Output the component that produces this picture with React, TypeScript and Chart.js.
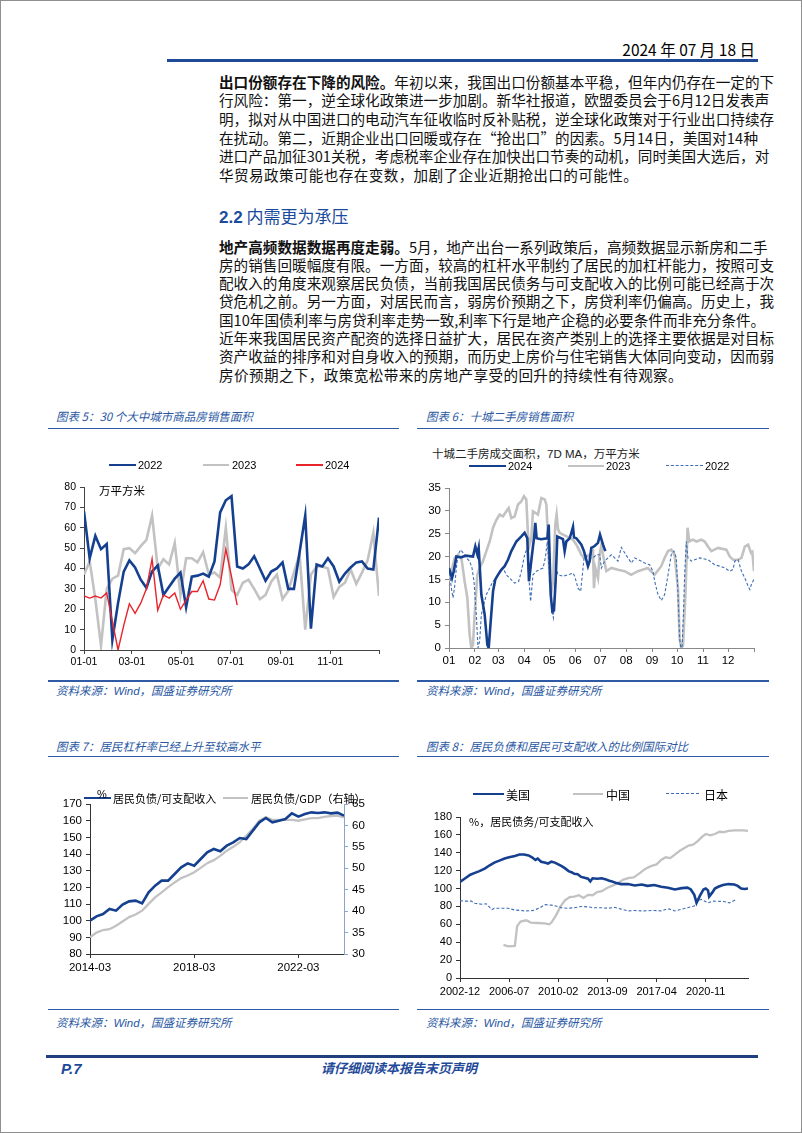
import React, { useEffect, useRef } from "react";
import { Chart, registerables } from "chart.js";
Chart.register(...registerables);

// ---------------- Data ----------------
// Chart 5: 30 cities, weekly (万平方米)
const weekTickDays = [0, 59, 120, 181, 243, 304, 364];
const weekTickLabels = ["01-01", "03-01", "05-01", "07-01", "09-01", "11-01", ""];
const sales2022 = [68, 45, 56, 49.5, 52, 5, 23, 38.5, 44, 40.5, 34.5, 30.5, 38.5, 41.5, 27, 31, 35, 38, 21, 36, 36.5, 37.5, 36, 43.5, 67.5, 73.5, 75.5, 41, 40, 42, 46, 40, 34, 38.5, 40, 43, 30, 30, 48, 66, 10.5, 42, 41, 45, 41, 33.5, 37.5, 40.5, 43, 43.5, 40, 39.5, 65];
const sales2023 = [37, 43.5, 25, 2, 30, 35, 36.5, 49.5, 50, 47.5, 51, 54, 66, 40, 44.5, 42, 52.5, 27, 45, 45, 43, 48, 37, 38, 35.5, 60, 29.5, 27, 33, 34.5, 30, 25, 27, 33.5, 37, 25, 29, 38, 47, 10, 37, 41, 41, 40, 26, 31, 33, 39.5, 32.5, 38, 44, 57.5, 26.5];
const sales2024 = [26.5, 25.5, 26.5, 25.5, 28, 14, 0, 12, 22.7, 18, 23, 30, 44.7, 19.5, 27, 25.5, 28, 20, 24.5, 28.7, 28.7, 34, 25, 24.5, 32, 49.5, 36, 22];

// Chart 6: ten cities second-hand, 7D MA, [day of year, value]
const monthTickDays = [0, 31, 59, 90, 120, 151, 181, 212, 243, 273, 304, 334, 365];
const monthTickLabels = ["01", "02", "03", "04", "05", "06", "07", "08", "09", "10", "11", "12", ""];
type Pt = [number, number];
const ten2024: Pt[] = [[0, 17.5], [3.6, 15.3], [6, 17], [8.8, 20], [14, 19.8], [20, 20.2], [28.7, 20], [31.5, 22.2], [33.9, 20.5], [35.5, 21.9], [38.7, 11.7], [42.7, 7.3], [45.9, 0.7], [47.5, 0], [49.9, 5.8], [52.7, 12.4], [55.4, 15], [58.6, 16], [62.6, 17.1], [66.6, 17.9], [70.6, 19.3], [74.6, 21.2], [80.6, 23.3], [86.6, 24.4], [90.5, 25.2], [93.7, 24], [95.7, 14.6], [99.3, 20.4], [101.7, 24], [103.3, 27.4], [104.9, 24], [110, 23.8], [117.7, 24], [119.3, 27], [121.7, 11.7], [123.7, 8], [125.6, 8.2], [127.6, 14.6], [129.6, 24.4], [136.4, 23.8], [138.4, 21.2], [140.4, 23.3], [144.4, 24], [146.4, 25.2], [148.4, 26.5], [149.6, 24.2], [152.4, 24], [158.4, 22.6], [161.5, 21.2], [164.3, 19.3], [166.3, 17.9], [168.3, 19], [170.3, 21.9], [174.3, 22.3], [178.3, 23], [180.7, 24.8], [184.3, 22.6], [187.1, 21.2]];
const ten2023: Pt[] = [[0, 14.6], [6.8, 19.7], [10.8, 20.4], [14.8, 19.7], [18.7, 14.6], [21.9, 11], [24.7, 2.9], [26.7, 0], [28.7, 0.7], [30.7, 7.3], [33.9, 16], [36.7, 17.5], [40.7, 19], [44.7, 21.2], [48.7, 23.3], [52.7, 26.3], [56.6, 28], [60.6, 29.2], [64.6, 28.8], [68.6, 29.9], [71.4, 30.6], [74.6, 28.4], [78.6, 28.8], [82.6, 31.4], [86.6, 32.1], [89.7, 33.2], [92.5, 32.5], [94.5, 24.8], [96.5, 22.6], [98.5, 24], [100.5, 29.9], [106.5, 29.2], [110.5, 32.8], [114.5, 32.5], [116.5, 31.4], [118.5, 24], [120.5, 14.6], [122.5, 12], [124.5, 14.6], [127.2, 27], [128.8, 29.2], [130.4, 26], [132.4, 25.2], [136.4, 24.8], [144.4, 24.1], [148.4, 23.7], [152.4, 22.6], [156.4, 21.2], [158.4, 20.4], [161.5, 19.7], [168.3, 20.4], [172.3, 21.2], [173.5, 13.1], [175.1, 17.5], [178.3, 15.3], [180.3, 20.4], [182.3, 22.5], [184.3, 20.4], [188.3, 16.8], [194.3, 17.5], [202.2, 17.1], [210.2, 16.8], [218, 16], [226, 16.8], [238, 17.5], [246, 16], [254, 17.9], [258, 19.7], [262, 21.2], [266, 21.5], [270, 20.4], [274, 13.1], [276, 2], [278, 0], [280, 0.5], [283, 12], [285.5, 26.3], [287.5, 23.3], [292, 23.7], [296, 23.3], [302, 23.7], [306, 23.3], [309.9, 22.2], [313.9, 21.2], [321.9, 21.9], [331.9, 21.5], [336, 20], [340, 19.3], [346, 19.3], [350, 19.7], [354, 22.2], [358, 22.6], [361.5, 20.8], [363, 21], [365, 16.8]];
const ten2022: Pt[] = [[0, 17.5], [2.8, 13.1], [4.8, 11], [6.8, 13.5], [8.8, 17.5], [10.8, 20.4], [14, 21.5], [16.8, 20.8], [20.7, 19.7], [24.7, 19], [27.5, 17.5], [29.9, 14.6], [32.7, 7.3], [34.7, 0], [36.7, 1.5], [38.7, 7.3], [40.7, 8.8], [44.7, 11.7], [48.7, 13.1], [52.7, 14.6], [56.6, 15.3], [60.6, 16.8], [64.6, 17.5], [68.6, 16], [72.6, 15.3], [78.6, 14.2], [83.4, 14.6], [86.6, 16.8], [90.5, 20.4], [93.7, 21.9], [95.3, 16], [97.7, 10.2], [100.5, 16], [104.5, 16.8], [112.5, 17.5], [115.3, 19.7], [117.7, 23.3], [120.5, 15.3], [123.3, 8], [124.9, 6.6], [126.4, 11.7], [128.4, 17.5], [130.4, 16], [136.4, 15.7], [142.4, 16], [148.4, 16.4], [150.4, 15.7], [154.4, 13.1], [157.6, 12.4], [160.4, 17.5], [162.3, 20.8], [165.5, 19.7], [172.3, 19.7], [176.3, 20.4], [180.3, 20.4], [182.3, 17.5], [186.3, 19], [194.3, 20.4], [198.2, 19.7], [202.2, 19], [206.2, 22], [214.2, 19.7], [218.2, 18.6], [222.2, 19.7], [230.2, 19], [234.1, 18.6], [240.1, 18.2], [244.1, 16.8], [246.1, 14.6], [250.1, 11.7], [254.1, 10.4], [258.1, 11.7], [262.1, 16], [266, 20.4], [269.2, 21.2], [272, 19.7], [274, 12], [276, 2], [277.5, 0], [279, 0.4], [280.5, 7.3], [282, 16], [284, 23.3], [286, 19.7], [290, 19], [300, 19.7], [310, 19.3], [318, 18.2], [324, 17.9], [330, 17.5], [336, 16.8], [340, 17.2], [342, 19], [346, 19.3], [350, 16.8], [354, 15.3], [358, 13.5], [360, 12.8], [362, 14], [365, 15]];

// Chart 7: quarterly household leverage
const levTickIdx = [0, 16, 32];
const levTickLabels = ["2014-03", "2018-03", "2022-03"];
const debtToIncome = [100, 102.6, 104, 107, 106, 109.6, 111.6, 112, 110.4, 117, 121, 124, 124, 128, 132, 134.4, 133, 137, 141, 143, 141.6, 145, 147, 149.6, 149, 154, 159, 161.6, 159, 160, 161, 164.4, 162.4, 164, 165, 164.6, 165, 164.4, 164.8, 163];
const debtToGdp = [33.9, 35, 35.6, 35.8, 36.6, 37.6, 38.6, 39.2, 40.1, 41.7, 43.2, 44.4, 45.6, 46.7, 47.7, 48.3, 49.1, 50.1, 51.2, 51.9, 52.9, 54.1, 55, 56.1, 57.6, 59.2, 61.1, 61.9, 61.3, 61.3, 61.3, 61.3, 61.1, 61.4, 61.7, 61.7, 62, 62.2, 62.3, 61.9];

// Chart 8: international comparison [months since 2002-12, value]
const intlTickMonths = [0, 43, 86, 129, 172, 215];
const intlTickLabels = ["2002-12", "2006-07", "2010-02", "2013-09", "2017-04", "2020-11"];
const usRatio: Pt[] = [[0, 107.5], [4, 111], [9, 115.5], [13, 117.5], [17, 119.5], [22, 122.5], [26, 126], [30, 129], [35, 131.5], [39, 133.5], [43, 135], [48, 136.5], [52, 138], [56, 138], [60, 137], [63, 135], [66, 132], [68, 133.5], [71, 130], [74, 129], [77, 128], [80, 130], [83, 129], [86, 127], [89, 125], [92, 122.5], [95, 119.5], [98, 118], [100, 116.5], [103, 116], [106, 113], [109, 112], [112, 111], [114, 108], [116, 111.5], [120, 111], [124, 111.5], [127, 110.5], [130, 109], [133, 108], [136, 106.5], [141, 105], [147, 105], [153, 103.5], [159, 104.5], [164, 103], [170, 104], [176, 102], [182, 101], [188, 99], [194, 100.5], [199, 101], [202, 99], [205, 93], [207, 84], [210, 92], [213, 99], [215, 100], [217, 98], [218, 91], [221, 96], [223, 100], [226, 102], [230, 104], [235, 105], [240, 104.5], [243, 103], [246, 100], [249, 99.5], [252, 100]];
const cnRatio: Pt[] = [[38, 37], [42, 35.5], [48, 36], [50, 58], [53, 63], [58, 64.5], [62, 62], [68, 61.5], [74, 61], [78, 60], [80, 62], [84, 70], [88, 80], [92, 87], [96, 90.5], [100, 91], [104, 92.5], [108, 89.5], [112, 93], [116, 92.5], [120, 96], [124, 97], [129, 101], [133, 103], [138, 106], [143, 110], [148, 112], [152, 112.5], [157, 117], [162, 122], [167, 125], [172, 127], [176, 132], [180, 135], [184, 134], [188, 138], [192, 142], [196, 145], [200, 148], [204, 149], [208, 153], [212, 158], [215, 161], [219, 159.5], [223, 161], [227, 163.5], [231, 163], [235, 164.5], [240, 165], [244, 165], [248, 165], [252, 164.5]];
const jpRatio: Pt[] = [[0, 86.5], [4, 86], [10, 86], [13, 83.5], [19, 82.5], [23, 83], [26, 79], [28, 76.5], [30, 78], [35, 78], [42, 78], [48, 76], [57, 75], [64, 75.5], [70, 78.5], [74, 82], [80, 81.5], [84, 80.5], [89, 78.5], [94, 78], [100, 78.5], [106, 80], [112, 79.5], [118, 78.5], [124, 78.5], [130, 78], [135, 79], [141, 77], [147, 75], [153, 75.5], [159, 75], [170, 75.5], [176, 75], [182, 77.5], [188, 75], [194, 77], [199, 78.5], [205, 80.5], [208, 86], [211, 88], [214, 86], [217, 84], [221, 86], [231, 85.5], [236, 84], [239, 86], [242, 88]];

// ---------------- Styles ----------------
const NAVY = "#15408f";
const GRAY = "#c2c2c2";
const RED = "#e8242b";
const DASHC = "#3d6db6";
const TBLUE = "#2a58a3";
const LATIN = "'Liberation Sans', Arial, sans-serif";
const CJK = "'Noto Sans CJK SC', 'Liberation Sans', sans-serif";

Chart.defaults.font.family = LATIN;

const toXY = (arr: Pt[]) => arr.map(([x, y]) => ({ x, y }));
const fromSeries = (vals: number[], step: number) => vals.map((y, i) => ({ x: i * step, y }));

function fixedTicks(values: number[], labels: string[]) {
  return {
    afterBuildTicks: (s: any) => {
      s.ticks = values.map((v) => ({ value: v }));
    },
    cb: (v: any) => {
      const k = values.indexOf(Number(v));
      return k >= 0 ? labels[k] : "";
    },
  };
}

function lineDs(data: any[], color: string, width: number, extra: any = {}) {
  return { data, borderColor: color, borderWidth: width, pointRadius: 0, tension: 0, fill: false, ...extra };
}

function axisX(opts: { min: number; max: number; values: number[]; labels: string[]; size: number; h: number; color: string; pad: number }) {
  const t = fixedTicks(opts.values, opts.labels);
  return {
    type: "linear",
    min: opts.min,
    max: opts.max,
    afterBuildTicks: t.afterBuildTicks,
    afterFit: (s: any) => {
      s.height = opts.h;
    },
    ticks: { callback: t.cb, autoSkip: false, maxRotation: 0, minRotation: 0, color: "#000", font: { size: opts.size, family: LATIN }, padding: opts.pad },
    grid: { display: true, drawOnChartArea: false, drawTicks: true, tickLength: 4, color: opts.color },
    border: { display: true, color: opts.color, width: 1 },
  };
}

function axisY(opts: { min: number; max: number; step: number; size: number; w: number; color: string; pos?: string; pad: number }) {
  return {
    type: "linear",
    position: opts.pos || "left",
    min: opts.min,
    max: opts.max,
    afterFit: (s: any) => {
      s.width = opts.w;
    },
    ticks: { stepSize: opts.step, autoSkip: false, color: "#000", font: { size: opts.size, family: LATIN }, padding: opts.pad },
    grid: { display: true, drawOnChartArea: false, drawTicks: true, tickLength: 4, color: opts.color },
    border: { display: true, color: opts.color, width: 1 },
  };
}

function baseOptions(scales: any, padTop: number, padRight: number) {
  return {
    animation: false,
    responsive: false,
    maintainAspectRatio: false,
    events: [],
    layout: { padding: { top: padTop, right: padRight, left: 0, bottom: 0 } },
    plugins: { legend: { display: false }, tooltip: { enabled: false }, title: { display: false } },
    scales,
  };
}

function ChartBox(props: { left: number; top: number; width: number; height: number; make: () => any }) {
  const ref = useRef<HTMLCanvasElement | null>(null);
  useEffect(() => {
    if (!ref.current) return;
    const chart = new Chart(ref.current, props.make());
    return () => chart.destroy();
  }, []);
  return (
    <canvas
      ref={ref}
      width={props.width}
      height={props.height}
      style={{ position: "absolute", left: props.left, top: props.top, width: props.width, height: props.height, display: "block" }}
    />
  );
}

function makeChart5() {
  return {
    type: "line",
    data: {
      datasets: [
        lineDs(fromSeries(sales2024, 7), RED, 1.4),
        lineDs(fromSeries(sales2022, 7), NAVY, 2.6),
        lineDs(fromSeries(sales2023, 7), GRAY, 2.6),
      ],
    },
    options: baseOptions(
      {
        x: axisX({ min: 0, max: 364, values: weekTickDays, labels: weekTickLabels, size: 10.5, h: 22, color: "#444", pad: 2 }),
        y: axisY({ min: 0, max: 80, step: 10, size: 10.5, w: 43, color: "#444", pad: 4 }),
      },
      12,
      10
    ),
  };
}

function makeChart6() {
  return {
    type: "line",
    data: {
      datasets: [
        lineDs(toXY(ten2024), NAVY, 2.6),
        lineDs(toXY(ten2022), DASHC, 1.1, { borderDash: [3, 2] }),
        lineDs(toXY(ten2023), GRAY, 2.6),
      ],
    },
    options: baseOptions(
      {
        x: axisX({ min: 0, max: 365, values: monthTickDays, labels: monthTickLabels, size: 11.5, h: 22, color: "#888", pad: 2 }),
        y: axisY({ min: 0, max: 35, step: 5, size: 11.5, w: 38, color: "#888", pad: 4 }),
      },
      12,
      10
    ),
  };
}

function makeChart7() {
  return {
    type: "line",
    data: {
      datasets: [
        lineDs(fromSeries(debtToIncome, 1), NAVY, 2.6, { yAxisID: "y" }),
        lineDs(fromSeries(debtToGdp, 1), GRAY, 2.3, { yAxisID: "y1" }),
      ],
    },
    options: baseOptions(
      {
        x: axisX({ min: 0, max: 39, values: levTickIdx, labels: levTickLabels, size: 11.5, h: 22, color: "#333", pad: 3 }),
        y: axisY({ min: 80, max: 170, step: 10, size: 11.5, w: 44, color: "#333", pad: 4 }),
        y1: axisY({ min: 30, max: 65, step: 5, size: 11.5, w: 30, color: "#8aa3cf", pos: "right", pad: 4 }),
      },
      12,
      2
    ),
  };
}

function makeChart8() {
  return {
    type: "line",
    data: {
      datasets: [
        lineDs(toXY(usRatio), NAVY, 2.6),
        lineDs(toXY(jpRatio), DASHC, 1.1, { borderDash: [3, 2] }),
        lineDs(toXY(cnRatio), GRAY, 2.3),
      ],
    },
    options: baseOptions(
      {
        x: axisX({ min: 0, max: 252, values: intlTickMonths, labels: intlTickLabels, size: 11, h: 22, color: "#333", pad: 3 }),
        y: axisY({ min: 0, max: 180, step: 20, size: 11, w: 44, color: "#333", pad: 4 }),
      },
      12,
      10
    ),
  };
}

// ---------------- Text helpers ----------------
function T(props: { x: number; y: number; size: number; children: any; style?: any; family?: string }) {
  const lh = Math.round(props.size * 1.4);
  return (
    <div
      style={{
        position: "absolute",
        left: props.x,
        top: props.y - lh / 2,
        lineHeight: lh + "px",
        fontSize: props.size,
        fontFamily: props.family || CJK,
        whiteSpace: "nowrap",
        color: "#000",
        ...(props.style || {}),
      }}
    >
      {props.children}
    </div>
  );
}

function HLine(props: { x: number; y: number; w: number; h: number; color: string }) {
  return <div style={{ position: "absolute", left: props.x, top: props.y - props.h / 2, width: props.w, height: props.h, background: props.color }} />;
}

function LegendLine(props: { x: number; y: number; w: number; color: string; width: number; dashed?: boolean }) {
  if (props.dashed) {
    return <div style={{ position: "absolute", left: props.x, top: props.y - props.width / 2, width: props.w, height: 0, borderTop: `${props.width}px dashed ${props.color}` }} />;
  }
  return <HLine x={props.x} y={props.y} w={props.w} h={props.width} color={props.color} />;
}

type Seg = { t: string; b?: boolean };

function BodyLine(props: { y: number; segs: Seg[]; last?: boolean }) {
  const toks: any[] = [];
  props.segs.forEach((s, si) => {
    (s.t.match(/[A-Za-z0-9.%\-\/]+| |\S/g) || []).forEach((tk, k) => {
      if (tk === " ") {
        toks.push(<span key={si + "-" + k} style={{ display: "inline-block", width: 3 }} />);
      } else {
        toks.push(
          <span key={si + "-" + k} style={{ fontWeight: s.b ? 700 : 400 }}>
            {tk}
          </span>
        );
      }
    });
  });
  return (
    <div
      style={{
        position: "absolute",
        left: 218,
        width: 539,
        top: props.y - 9.5,
        height: 19,
        lineHeight: "19px",
        fontSize: 14.6,
        fontFamily: CJK,
        color: "#111",
        display: "flex",
        flexWrap: "nowrap",
        justifyContent: props.last ? "flex-start" : "space-between",
        columnGap: props.last ? 0.37 : 0,
        whiteSpace: "nowrap",
      }}
    >
      {toks}
    </div>
  );
}

const para1: Seg[][] = [
  [{ t: "出口份额存在下降的风险。", b: true }, { t: "年初以来，我国出口份额基本平稳，但年内仍存在一定的下" }],
  [{ t: "行风险：第一，逆全球化政策进一步加剧。新华社报道，欧盟委员会于 6 月 12 日发表声" }],
  [{ t: "明，拟对从中国进口的电动汽车征收临时反补贴税，逆全球化政策对于行业出口持续存" }],
  [{ t: "在扰动。第二，近期企业出口回暖或存在“抢出口”的因素。5 月 14 日，美国对 14 种" }],
  [{ t: "进口产品加征 301 关税，考虑税率企业存在加快出口节奏的动机，同时美国大选后，对" }],
  [{ t: "华贸易政策可能也存在变数，加剧了企业近期抢出口的可能性。" }],
];
const para1Y = [80, 98.7, 117.4, 136.1, 154.8, 173.5];

const para2: Seg[][] = [
  [{ t: "地产高频数据数据再度走弱。", b: true }, { t: "5 月，地产出台一系列政策后，高频数据显示新房和二手" }],
  [{ t: "房的销售回暖幅度有限。一方面，较高的杠杆水平制约了居民的加杠杆能力，按照可支" }],
  [{ t: "配收入的角度来观察居民负债，当前我国居民债务与可支配收入的比例可能已经高于次" }],
  [{ t: "贷危机之前。另一方面，对居民而言，弱房价预期之下，房贷利率仍偏高。历史上，我" }],
  [{ t: "国 10 年国债利率与房贷利率走势一致,利率下行是地产企稳的必要条件而非充分条件。" }],
  [{ t: "近年来我国居民资产配资的选择日益扩大，居民在资产类别上的选择主要依据是对目标" }],
  [{ t: "资产收益的排序和对自身收入的预期，而历史上房价与住宅销售大体同向变动，因而弱" }],
  [{ t: "房价预期之下，政策宽松带来的房地产享受的回升的持续性有待观察。" }],
];
const para2Y = [245, 263.3, 281.6, 299.9, 318.2, 336.5, 354.8, 373.1];

const titleStyle = { color: TBLUE, fontStyle: "italic" };

export default function App() {
  return (
    <div
      style={{
        position: "absolute",
        left: 0,
        top: 0,
        width: 802,
        height: 1133,
        background: "#fff",
        overflow: "hidden",
        boxSizing: "border-box",
        border: "1px solid #8f8f8f",
      }}
    >
      {/* Header */}
      <div
        style={{
          position: "absolute",
          right: 46,
          top: 48 - 11,
          lineHeight: "22px",
          fontSize: 15.5,
          fontFamily: "'Liberation Sans Narrow', " + CJK,
          color: "#000",
          whiteSpace: "nowrap",
        }}
      >
        2024 年 07 月 18 日
      </div>
      <HLine x={166} y={59.5} w={591} h={2.2} color="#1f4a98" />

      {para1.map((segs, i) => (
        <BodyLine key={"p1" + i} y={para1Y[i]} segs={segs} last={i === para1.length - 1} />
      ))}

      <T x={218} y={215} size={17} style={{ color: "#1b4b9c" }}>
        <span style={{ fontFamily: LATIN, fontWeight: 700 }}>2.2</span> 内需更为承压
      </T>

      {para2.map((segs, i) => (
        <BodyLine key={"p2" + i} y={para2Y[i]} segs={segs} last={i === para2.length - 1} />
      ))}

      {/* Chart 5 frame */}
      <T x={55} y={415} size={11.5} style={titleStyle}>
        图表 5：30 个大中城市商品房销售面积
      </T>
      <HLine x={47} y={427.3} w={351} h={1.5} color="#2f5aa6" />
      <ChartBox left={40} top={474} width={348} height={197} make={makeChart5} />
      <LegendLine x={108} y={464} w={27} color={NAVY} width={2.6} />
      <T x={137} y={464} size={11} family={LATIN}>2022</T>
      <LegendLine x={202} y={464} w={26} color={GRAY} width={2.6} />
      <T x={231} y={464} size={11} family={LATIN}>2023</T>
      <LegendLine x={295} y={464} w={27} color={RED} width={1.4} />
      <T x={324} y={464} size={11} family={LATIN}>2024</T>
      <T x={98} y={489} size={11.5}>万平方米</T>
      <HLine x={47} y={680} w={351} h={1.5} color="#2f5aa6" />
      <T x={55} y={689} size={11.5} style={titleStyle}>
        资料来源：<span style={{ fontFamily: LATIN }}>Wind</span>，国盛证券研究所
      </T>

      {/* Chart 6 frame */}
      <T x={425} y={415} size={11.5} style={titleStyle}>
        图表 6：十城二手房销售面积
      </T>
      <HLine x={416} y={427.3} w={352} h={1.5} color="#2f5aa6" />
      <T x={431} y={452} size={11.5} style={{ color: "#222" }}>
        十城二手房成交面积，<span style={{ fontFamily: LATIN }}>7D MA</span>，万平方米
      </T>
      <ChartBox left={410} top={475} width={353} height={194} make={makeChart6} />
      <LegendLine x={468} y={465} w={37} color={NAVY} width={2.8} />
      <T x={507} y={465} size={11} family={LATIN}>2024</T>
      <LegendLine x={567} y={465} w={36} color={GRAY} width={2.8} />
      <T x={605} y={465} size={11} family={LATIN}>2023</T>
      <LegendLine x={665} y={465} w={37} color={DASHC} width={1.1} dashed />
      <T x={704} y={465} size={11} family={LATIN}>2022</T>
      <HLine x={416} y={680} w={352} h={1.5} color="#2f5aa6" />
      <T x={425} y={689} size={11.5} style={titleStyle}>
        资料来源：<span style={{ fontFamily: LATIN }}>Wind</span>，国盛证券研究所
      </T>

      {/* Chart 7 frame */}
      <T x={55} y={745} size={11.5} style={titleStyle}>
        图表 7：居民杠杆率已经上升至较高水平
      </T>
      <HLine x={47} y={755.5} w={351} h={1.5} color="#2f5aa6" />
      <ChartBox left={45} top={791} width={330} height={184} make={makeChart7} />
      <LegendLine x={83} y={797} w={27} color={NAVY} width={2.8} />
      <T x={96} y={793} size={11} family={LATIN}>%</T>
      <T x={112} y={797} size={11}>居民负债/可支配收入</T>
      <LegendLine x={222} y={797} w={25} color={GRAY} width={2.6} />
      <T x={250} y={797} size={11}>居民负债/GDP（右轴）</T>
      <HLine x={47} y={1008.3} w={351} h={1.5} color="#2f5aa6" />
      <T x={55} y={1020.5} size={11.5} style={titleStyle}>
        资料来源：<span style={{ fontFamily: LATIN }}>Wind</span>，国盛证券研究所
      </T>

      {/* Chart 8 frame */}
      <T x={425} y={745} size={11.5} style={titleStyle}>
        图表 8：居民负债和居民可支配收入的比例国际对比
      </T>
      <HLine x={416} y={755.5} w={352} h={1.5} color="#2f5aa6" />
      <ChartBox left={415} top={804} width={342} height={195} make={makeChart8} />
      <LegendLine x={472} y={793} w={31} color={NAVY} width={2.8} />
      <T x={505} y={793} size={12}>美国</T>
      <LegendLine x={572} y={793} w={30} color={GRAY} width={2.6} />
      <T x={605} y={793} size={12}>中国</T>
      <LegendLine x={665} y={793} w={33} color={DASHC} width={1.1} dashed />
      <T x={703} y={793} size={12}>日本</T>
      <T x={468} y={820} size={11}>%，居民债务/可支配收入</T>
      <HLine x={416} y={1008.3} w={352} h={1.5} color="#2f5aa6" />
      <T x={425} y={1020.5} size={11.5} style={titleStyle}>
        资料来源：<span style={{ fontFamily: LATIN }}>Wind</span>，国盛证券研究所
      </T>

      {/* Footer */}
      <HLine x={45} y={1055.5} w={712} h={3} color="#1f3f7e" />
      <T x={60} y={1067} size={15} family={LATIN} style={{ color: "#1f4a98", fontWeight: 700, fontStyle: "italic" }}>
        P.7
      </T>
      <T x={320} y={1067} size={13} style={{ color: "#1f4a98", fontWeight: 700, fontStyle: "italic" }}>
        请仔细阅读本报告末页声明
      </T>
    </div>
  );
}
